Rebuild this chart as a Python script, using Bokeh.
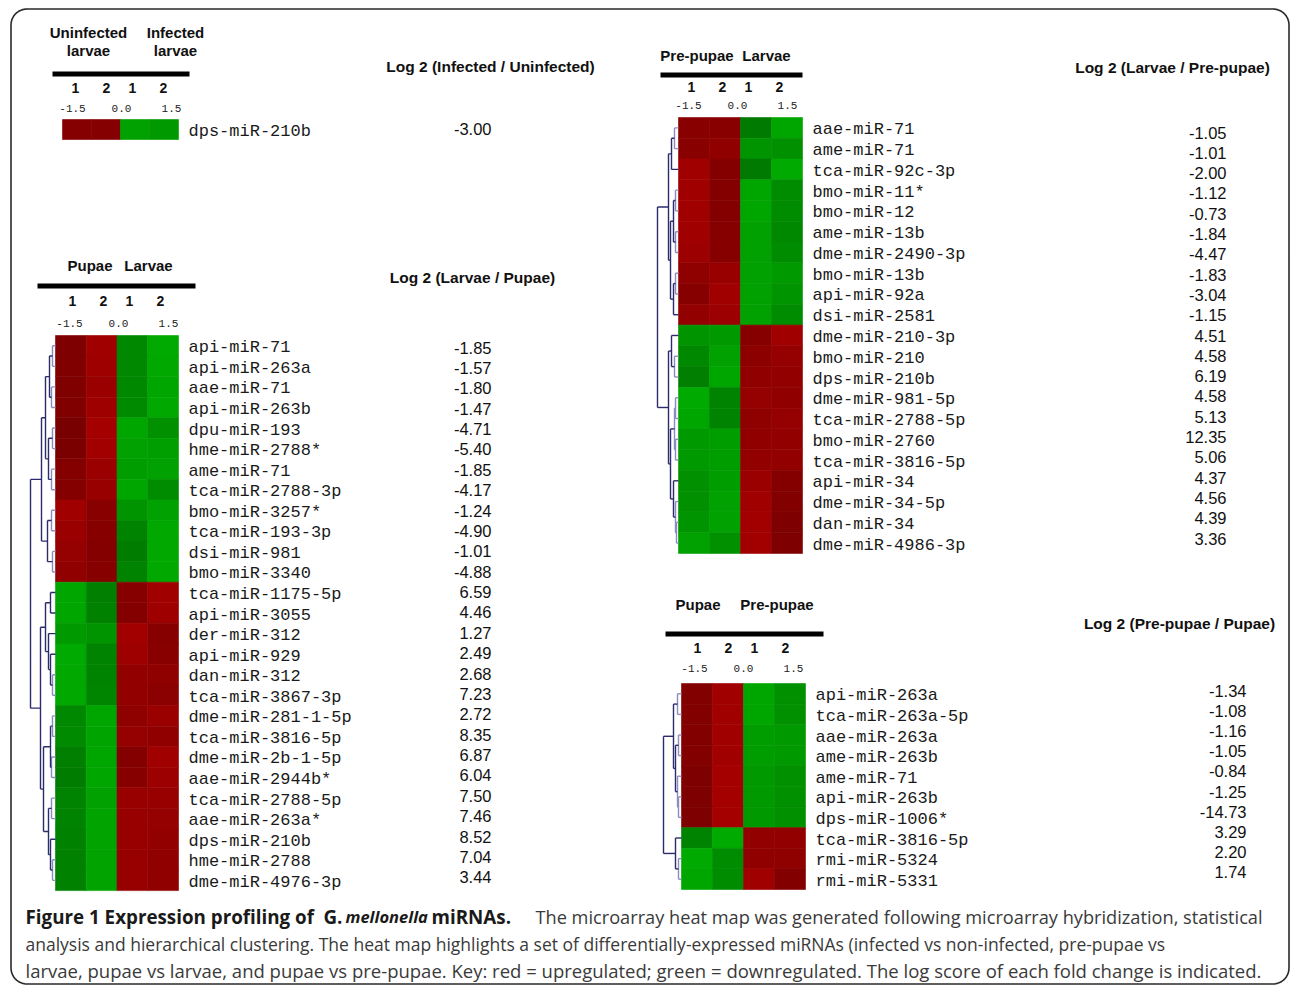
import numpy as np
from bokeh.plotting import figure
from bokeh.models import Range1d, ColumnDataSource
from bokeh.transform import linear_cmap
from bokeh.core.properties import value
from bokeh.embed import file_html
from bokeh.resources import INLINE

# ---------------- DATA ----------------
scale_labels = ["-1.5", "0.0", "1.5"]
rep_labels = ["1", "2", "1", "2"]

# Panel A: infected vs uninfected larvae
a_groups = [["Uninfected", "larvae"], ["Infected", "larvae"]]
a_header = "Log 2 (Infected / Uninfected)"
a_names = ["dps-miR-210b"]
a_log2 = ["-3.00"]
a_cells = [[0.50, 0.50, -1.26, -1.05]]

# Panel B: pupae vs larvae
b_groups = [["Pupae"], ["Larvae"]]
b_header = "Log 2 (Larvae / Pupae)"
b_names = ["api-miR-71", "api-miR-263a", "aae-miR-71", "api-miR-263b", "dpu-miR-193",
           "hme-miR-2788*", "ame-miR-71", "tca-miR-2788-3p", "bmo-miR-3257*", "tca-miR-193-3p",
           "dsi-miR-981", "bmo-miR-3340", "tca-miR-1175-5p", "api-miR-3055", "der-miR-312",
           "api-miR-929", "dan-miR-312", "tca-miR-3867-3p", "dme-miR-281-1-5p", "tca-miR-3816-5p",
           "dme-miR-2b-1-5p", "aae-miR-2944b*", "tca-miR-2788-5p", "aae-miR-263a*", "dps-miR-210b",
           "hme-miR-2788", "dme-miR-4976-3p"]
b_log2 = ["-1.85", "-1.57", "-1.80", "-1.47", "-4.71", "-5.40", "-1.85", "-4.17", "-1.24", "-4.90",
          "-1.01", "-4.88", "6.59", "4.46", "1.27", "2.49", "2.68", "7.23", "2.72", "8.35",
          "6.87", "6.04", "7.50", "7.46", "8.52", "7.04", "3.44"]
b_cells = [[0.30, 1.26, -0.54, -1.50], [0.36, 1.20, -0.54, -1.44], [0.36, 1.08, -0.54, -1.38],
           [0.36, 1.20, -0.60, -1.44], [0.12, 1.38, -1.38, -0.78], [0.18, 1.32, -1.26, -1.20],
           [0.48, 1.08, -1.14, -1.26], [0.48, 1.02, -1.38, -0.66], [1.26, 0.60, -0.90, -1.26],
           [1.08, 0.54, -0.42, -1.44], [0.96, 0.48, -0.24, -1.44], [0.84, 0.54, -0.42, -1.44],
           [-1.38, -0.30, 0.54, 1.26], [-1.38, -0.36, 0.48, 1.20], [-1.02, -0.90, 1.32, 0.54],
           [-1.50, -0.42, 1.20, 0.60], [-1.44, -0.42, 0.90, 0.78], [-1.44, -0.48, 0.90, 0.66],
           [-0.54, -1.38, 0.78, 1.08], [-0.60, -1.32, 0.96, 0.84], [-0.30, -1.38, 0.48, 1.26],
           [-0.24, -1.38, 0.54, 1.14], [-0.42, -1.26, 1.02, 1.02], [-0.42, -1.30, 1.02, 0.96],
           [-0.36, -1.30, 1.02, 0.90], [-0.36, -1.30, 1.02, 0.84], [-0.36, -1.30, 1.02, 0.84]]
b_tree = [25,
          [14, [10, [6, [3, 0, 1], [4, 2, 3]], [7, [3, 4, 5], [4, 6, 7]]], [8, [4, 8, 9], [3, 10, 11]]],
          [15, [10, [5, 12, 13], [7, 14, [5, 15, [3, 16, 17]]]],
           [12, [5, [3, 18, 19], [4, 20, 21]], [7, [4, 22, 23], [5, 24, [3, 25, 26]]]]]]

# Panel C: pre-pupae vs larvae
c_groups = [["Pre-pupae"], ["Larvae"]]
c_header = "Log 2 (Larvae / Pre-pupae)"
c_names = ["aae-miR-71", "ame-miR-71", "tca-miR-92c-3p", "bmo-miR-11*", "bmo-miR-12", "ame-miR-13b",
           "dme-miR-2490-3p", "bmo-miR-13b", "api-miR-92a", "dsi-miR-2581", "dme-miR-210-3p",
           "bmo-miR-210", "dps-miR-210b", "dme-miR-981-5p", "tca-miR-2788-5p", "bmo-miR-2760",
           "tca-miR-3816-5p", "api-miR-34", "dme-miR-34-5p", "dan-miR-34", "dme-miR-4986-3p"]
c_log2 = ["-1.05", "-1.01", "-2.00", "-1.12", "-0.73", "-1.84", "-4.47", "-1.83", "-3.04", "-1.15",
          "4.51", "4.58", "6.19", "4.58", "5.13", "12.35", "5.06", "4.37", "4.56", "4.39", "3.36"]
c_cells = [[0.60, 0.60, -0.18, -1.38], [0.60, 0.84, -0.90, -0.78], [1.26, 0.48, -0.18, -1.50],
           [1.26, 0.48, -1.38, -0.66], [1.26, 0.48, -1.38, -0.66], [1.26, 0.54, -1.26, -0.54],
           [1.14, 0.54, -1.26, -0.66], [0.78, 1.02, -1.26, -1.02], [0.54, 1.26, -1.26, -0.90],
           [0.90, 1.14, -1.26, -0.66], [-0.90, -1.02, 0.54, 1.26], [-0.54, -1.26, 0.72, 0.96],
           [-0.30, -1.38, 0.84, 0.90], [-1.50, -0.42, 0.96, 0.84], [-1.38, -0.42, 0.78, 0.96],
           [-1.02, -1.14, 0.84, 0.90], [-1.02, -1.14, 0.90, 0.90], [-0.78, -1.14, 1.08, 0.48],
           [-0.78, -1.26, 1.26, 0.42], [-0.90, -1.26, 1.32, 0.30], [-1.26, -0.78, 1.32, 0.30]]
c_tree = [21,
          [10, [7, [4, 0, 1], 2], [8, [5, [3, 3, 4], [3, 5, 6]], [5, [3, 7, 8], 9]]],
          [10, [7, 10, [4, 11, 12]], [8, [4, [3, 13, 14], [3, 15, 16]], [5, 17, [3, 18, [2, 19, 20]]]]]]

# Panel D: pupae vs pre-pupae
d_groups = [["Pupae"], ["Pre-pupae"]]
d_header = "Log 2 (Pre-pupae / Pupae)"
d_names = ["api-miR-263a", "tca-miR-263a-5p", "aae-miR-263a", "ame-miR-263b", "ame-miR-71",
           "api-miR-263b", "dps-miR-1006*", "tca-miR-3816-5p", "rmi-miR-5324", "rmi-miR-5331"]
d_log2 = ["-1.34", "-1.08", "-1.16", "-1.05", "-0.84", "-1.25", "-14.73", "3.29", "2.20", "1.74"]
d_cells = [[0.42, 1.26, -1.38, -0.78], [0.42, 1.26, -1.38, -0.78], [0.42, 1.26, -1.14, -1.02],
           [0.42, 1.26, -1.14, -1.02], [0.30, 1.38, -1.02, -0.78], [0.30, 1.38, -1.02, -0.78],
           [0.30, 1.38, -1.02, -0.78], [-0.42, -1.50, 0.90, 0.90], [-1.50, -0.66, 0.84, 0.78],
           [-1.38, -0.66, 1.26, 0.42]]
d_tree = [18,
          [8, [4, 0, 1], [6, [3, 2, 3], [4, 4, [3, 5, 6]]]],
          [6, 7, [3, 8, 9]]]

caption_lines = [
    [("Figure 1 Expression profiling of", "bold"), ("G.", "bold"), ("mellonella", "bold italic"),
     ("miRNAs.", "bold"),
     ("The microarray heat map was generated following microarray hybridization, statistical", "normal")],
    [("analysis and hierarchical clustering. The heat map highlights a set of differentially-expressed "
      "miRNAs (infected vs non-infected, pre-pupae vs", "normal")],
    [("larvae, pupae vs larvae, and pupae vs pre-pupae. Key: red = upregulated; "
      "green = downregulated. The log score of each fold change is indicated.", "normal")],
]

# ---------------- LAYOUT (pixel positions on the page) ----------------
layout = {
    "A": dict(names=a_names, log2=a_log2, cells=a_cells, groups=a_groups, header=a_header, tree=None,
              heat=(62, 119, 29.0, 20.0), group_x=[88, 175], group_y=32, num_x0=75, num_y=87,
              scale_y=108, bar=(52, 189, 73.5), label_x=188, header_xy=(490, 66),
              val=(491, 128, 20.4)),
    "B": dict(names=b_names, log2=b_log2, cells=b_cells, groups=b_groups, header=b_header, tree=b_tree,
              heat=(55, 335, 30.75, 20.56), group_x=[89.5, 148], group_y=265, num_x0=72, num_y=300,
              scale_y=323, bar=(37, 195, 285.5), label_x=188, header_xy=(472, 277),
              val=(491, 347, 20.38)),
    "C": dict(names=c_names, log2=c_log2, cells=c_cells, groups=c_groups, header=c_header, tree=c_tree,
              heat=(678, 117, 31.0, 20.76), group_x=[696.5, 766], group_y=55, num_x0=691, num_y=86,
              scale_y=105, bar=(660, 802, 74.5), label_x=812, header_xy=(1172, 67),
              val=(1226, 132, 20.3)),
    "D": dict(names=d_names, log2=d_log2, cells=d_cells, groups=d_groups, header=d_header, tree=d_tree,
              heat=(681, 683, 31.0, 20.6), group_x=[697.5, 776.5], group_y=604, num_x0=697, num_y=647,
              scale_y=668, bar=(665, 823, 633.5), label_x=815, header_xy=(1179, 623),
              val=(1246, 690, 20.2)),
}

# colour scale: bright green (-1.5) -> dark green (0) | dark red (0) -> bright red (1.5)
palette = []
for k in range(128):
    g = int(round(170 - (170 - 116) * k / 127))
    palette.append("#00%02x00" % g)
for k in range(128):
    r = int(round(116 + (168 - 116) * k / 127))
    palette.append("#%02x0000" % r)

W, H = 1290, 985
p = figure(width=W, height=H, x_range=Range1d(0, W), y_range=Range1d(H, 0),
           output_backend="svg", toolbar_location=None, min_border=0)
p.axis.visible = False
p.grid.visible = False
p.outline_line_color = None
p.background_fill_color = "white"
p.border_fill_color = "white"

# rounded frame
rad = 16
x0f, x1f, y0f, y1f = 10.5, 1288.5, 8.5, 983.5
fx, fy = [], []
for cx, cy, a0 in [(x1f - rad, y0f + rad, -90), (x1f - rad, y1f - rad, 0),
                   (x0f + rad, y1f - rad, 90), (x0f + rad, y0f + rad, 180)]:
    t = np.radians(np.linspace(a0, a0 + 90, 12))
    fx += list(cx + rad * np.cos(t))
    fy += list(cy + rad * np.sin(t))
fx.append(fx[0]); fy.append(fy[0])
p.line(fx, fy, line_color="#2a2a2a", line_width=1.6)

LAB_FONT = value("Liberation Mono")
SANS = value("Liberation Sans")

for key, L in layout.items():
    hx, hy, cw, rh = L["heat"]
    cells = np.array(L["cells"])
    nr, nc = cells.shape
    xs, ys, vs = [], [], []
    for i in range(nr):
        for j in range(nc):
            xs.append(hx + (j + 0.5) * cw)
            ys.append(hy + (i + 0.5) * rh)
            vs.append(cells[i, j])
    src = ColumnDataSource(dict(x=xs, y=ys, v=vs))
    cmap = linear_cmap("v", palette, -1.5, 1.5)
    p.rect("x", "y", width=cw, height=rh, source=src, fill_color=cmap, line_color=cmap,
           line_width=0.6)

    # miRNA labels
    lsrc = ColumnDataSource(dict(x=[L["label_x"]] * nr,
                                 y=[hy + (i + 0.5) * rh + 2 for i in range(nr)],
                                 t=L["names"]))
    p.text("x", "y", text="t", source=lsrc, text_font=LAB_FONT, text_font_size="17px",
           text_baseline="middle", text_align="left", text_color="#1a1a1a")

    # log2 values
    vr, vy0, vdy = L["val"]
    vsrc = ColumnDataSource(dict(x=[vr] * nr, y=[vy0 + i * vdy for i in range(nr)], t=L["log2"]))
    p.text("x", "y", text="t", source=vsrc, text_font=SANS, text_font_size="16.5px",
           text_baseline="middle", text_align="right", text_color="#111111")

    # value header
    p.text([L["header_xy"][0]], [L["header_xy"][1]], text=[L["header"]], text_font=SANS,
           text_font_style="bold", text_font_size="15.5px", text_align="center",
           text_baseline="middle", text_color="#111111")

    # group header words
    gx, gt, gy = [], [], []
    for g, words in enumerate(L["groups"]):
        for w, word in enumerate(words):
            gx.append(L["group_x"][g]); gy.append(L["group_y"] + w * 18); gt.append(word)
    p.text(gx, gy, text=gt, text_font=SANS, text_font_style="bold", text_font_size="15px",
           text_align="center", text_baseline="middle", text_color="#111111")

    # black bar
    bx0, bx1, by = L["bar"]
    p.segment([bx0], [by], [bx1], [by], line_color="black", line_width=5)

    # replicate numbers
    n0 = L["num_x0"]
    p.text([n0, n0 + 31, n0 + 57, n0 + 88], [L["num_y"]] * 4, text=rep_labels, text_font=SANS,
           text_font_style="bold", text_font_size="14px", text_align="center",
           text_baseline="middle", text_color="#111111")
    # scale labels
    p.text([n0 - 3, n0 + 46, n0 + 96], [L["scale_y"]] * 3, text=scale_labels, text_font=LAB_FONT,
           text_font_size="11px", text_align="center", text_baseline="middle",
           text_color="#222222")

    # dendrogram
    if L["tree"] is not None:
        segs = dict(x0=[], y0=[], x1=[], y1=[], c=[])

        def rec(node):
            if isinstance(node, int):
                return hy + (node + 0.5) * rh, hx
            h, a, b = node
            ya, xa = rec(a)
            yb, xb = rec(b)
            x = hx - h
            col = "#8c8cc0" if h <= 4 else "#2c2c6c"
            for (sx, sy) in [(xa, ya), (xb, yb)]:
                segs["x0"].append(sx); segs["y0"].append(sy)
                segs["x1"].append(x); segs["y1"].append(sy); segs["c"].append(col)
            segs["x0"].append(x); segs["y0"].append(ya)
            segs["x1"].append(x); segs["y1"].append(yb); segs["c"].append(col)
            return (ya + yb) / 2, x

        rec(L["tree"])
        p.segment("x0", "y0", "x1", "y1", source=ColumnDataSource(segs), line_color="c",
                  line_width=1.4)

# caption
CAP = value("Open Sans")
cap_y = [916, 943, 970]
line1_x = [25, 323, 345, 431, 535]
sizes = {"bold": "18.8px", "bold italic": "16.5px"}
normal_size = ["18.2px", "17.5px", "18.5px"]
for li, segs in enumerate(caption_lines):
    for si, (txt, style) in enumerate(segs):
        x = line1_x[si] if li == 0 else 25
        fs = sizes.get(style, normal_size[li])
        p.text([x], [cap_y[li]], text=[txt], text_font=CAP, text_font_size=fs,
               text_font_style=style, text_align="left", text_baseline="middle",
               text_color="#1a1a1a" if style != "normal" else "#3a3a3a")

open("out.html", "w").write(file_html(p, INLINE))
